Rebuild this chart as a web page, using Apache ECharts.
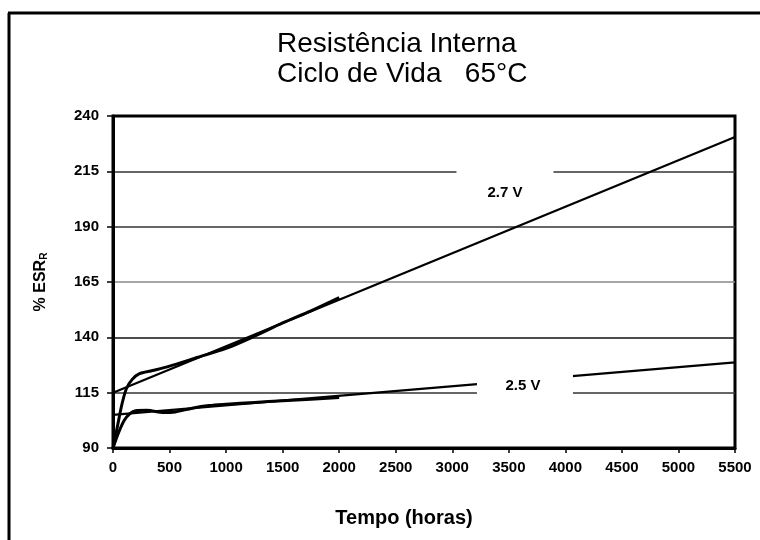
<!DOCTYPE html>
<html><head><meta charset="utf-8">
<script src="https://cdn.jsdelivr.net/npm/echarts@6/dist/echarts.min.js"></script>
<style>html,body{margin:0;padding:0;background:#fff}#c{width:760px;height:540px}</style>
</head><body><div id="c"></div>
<script>
// ---- data ----
const titleLines = ['Resistência Interna', 'Ciclo de Vida   65°C'];
const xTicks = [0, 500, 1000, 1500, 2000, 2500, 3000, 3500, 4000, 4500, 5000, 5500];
const yTicks = [90, 115, 140, 165, 190, 215, 240];
const hours27 = [0, 40, 80, 120, 170, 230, 350, 500, 750, 1000, 1250, 1500, 1750, 2000];
const esr27 = [90, 100, 110, 117, 121, 123.5, 125, 127, 131, 135, 140.5, 146.5, 152, 158];
const hours25 = [0, 50, 100, 150, 200, 300, 450, 550, 700, 850, 1000, 1250, 1500, 1750, 2000];
const esr25 = [90, 97, 102.5, 105.5, 106.8, 107, 106, 106.3, 108, 109.2, 109.8, 110.6, 111.3, 112, 112.8];
const fitHours = [0, 5500];
const fit27 = [115, 230.5];
const fit25 = [105, 128.7];
const labelNames = ['2.7 V', '2.5 V'];
const labelPos = [[3466, 205.2], [3625, 118]];

const zip = (a, b) => a.map((v, i) => [v, b[i]]);
const chart = echarts.init(document.getElementById('c'));
const ff = '"Liberation Sans", Arial, sans-serif';
const lineS = (data, w, smooth) => ({
  type: 'line', data, symbol: 'none', smooth: smooth,
  lineStyle: { color: '#000', width: w }, z: 3, silent: true
});
const boxStyle = [
  { size: [97, 37], offset: [0, -6.5] },
  { size: [96, 25], offset: [2, -1.5] }
];
chart.setOption({
  animation: false,
  backgroundColor: '#fff',
  title: {
    text: titleLines.join('\n'), left: 272, top: 24,
    textStyle: { fontFamily: ff, fontSize: 28, fontWeight: 'normal', color: '#000', lineHeight: 30 }
  },
  grid: { left: 113, right: 25, top: 116, bottom: 92, show: true, borderColor: '#000', borderWidth: 3, containLabel: false },
  xAxis: {
    type: 'value', min: xTicks[0], max: xTicks[xTicks.length - 1], interval: 500,
    name: 'Tempo (horas)', nameLocation: 'middle', nameGap: 60,
    nameTextStyle: { fontFamily: ff, fontSize: 20, fontWeight: 'bold', color: '#000', padding: [0, 40, 0, 0] },
    axisLine: { lineStyle: { color: '#000', width: 3 } },
    axisTick: { show: true, length: 5, lineStyle: { color: '#000', width: 1.5 } },
    axisLabel: { fontFamily: ff, fontSize: 15, fontWeight: 'bold', color: '#000', margin: 12, formatter: v => String(v) },
    splitLine: { show: false }
  },
  yAxis: {
    type: 'value', min: yTicks[0], max: yTicks[yTicks.length - 1], interval: 25,
    name: '{a|% ESR}{b|R}', nameLocation: 'middle', nameGap: 64, nameRotate: 90,
    nameTextStyle: { rich: {
      a: { fontFamily: ff, fontSize: 16, fontWeight: 'bold', color: '#000' },
      b: { fontFamily: ff, fontSize: 10, fontWeight: 'bold', color: '#000', verticalAlign: 'bottom', padding: [7, 0, 0, 0] }
    } },
    axisLine: { lineStyle: { color: '#000', width: 3 } },
    axisTick: { show: true, length: 6, lineStyle: { color: '#000', width: 1.5 } },
    axisLabel: { fontFamily: ff, fontSize: 15, fontWeight: 'bold', color: '#000', margin: 14, formatter: v => String(v) },
    splitLine: { show: true, lineStyle: { color: ['#000', '#333', '#111', '#888', '#333', '#333', '#000'], width: 1.6 } }
  },
  graphic: [
    { type: 'line', shape: { x1: 8, y1: 13, x2: 760, y2: 13 }, style: { stroke: '#000', lineWidth: 3 } },
    { type: 'line', shape: { x1: 9, y1: 13, x2: 9, y2: 540 }, style: { stroke: '#000', lineWidth: 3 } }
  ],
  series: [
    lineS(zip(fitHours, fit27), 2.2, false),
    lineS(zip(fitHours, fit25), 2.2, false),
    lineS(zip(hours27, esr27), 3, 0.3),
    lineS(zip(hours25, esr25), 3, 0.3),
    {
      type: 'scatter', symbol: 'rect', z: 10, silent: true,
      itemStyle: { color: '#fff', opacity: 1 },
      data: labelPos.map((p, i) => ({ value: p, name: labelNames[i],
        symbolSize: boxStyle[i].size, symbolOffset: boxStyle[i].offset,
        label: { offset: [-boxStyle[i].offset[0], -boxStyle[i].offset[1]] } })),
      label: { show: true, position: 'inside', formatter: '{b}', fontFamily: ff, fontSize: 15, fontWeight: 'bold', color: '#000' },
      emphasis: { disabled: true }
    }
  ]
});
</script></body></html>
